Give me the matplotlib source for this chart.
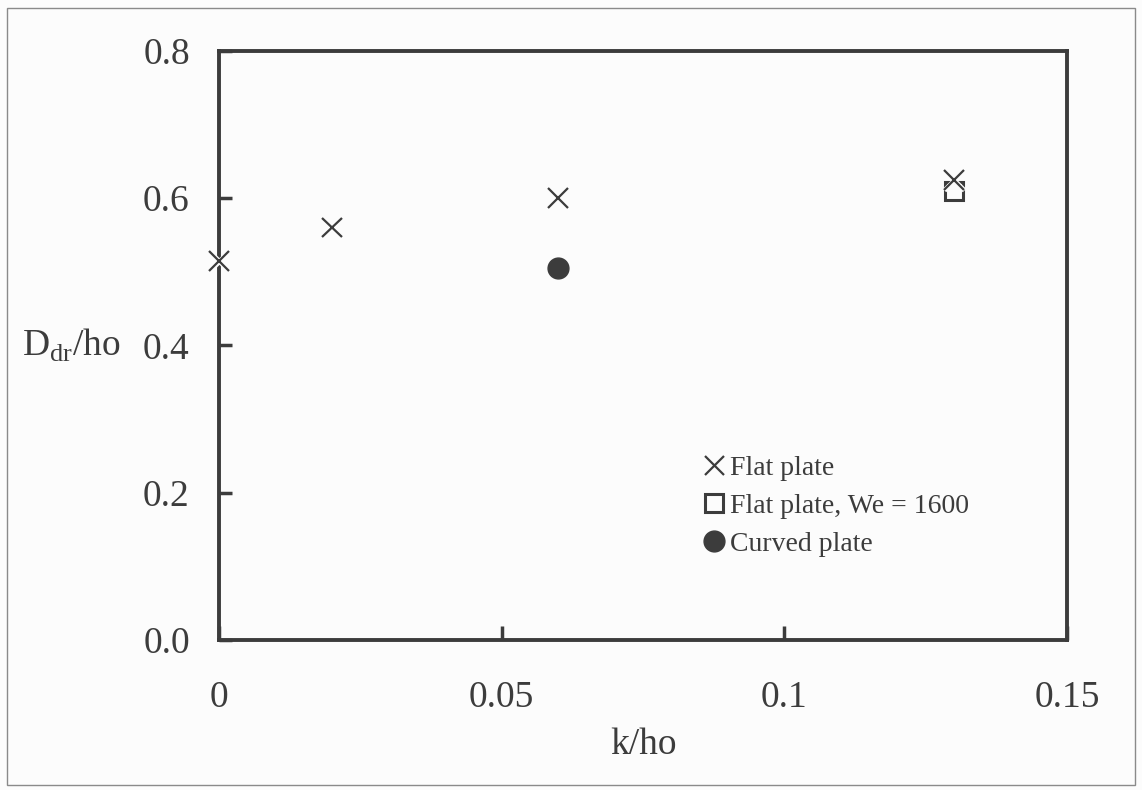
import matplotlib
matplotlib.use('Agg')
import matplotlib.pyplot as plt
import matplotlib.patheffects as pe
from matplotlib.patches import Rectangle

## Initialize
plt.rcParams['font.family'] = ['Liberation Serif', 'DejaVu Serif']
plt.rcParams['mathtext.fontset'] = 'custom'
plt.rcParams['mathtext.rm'] = 'Liberation Serif'
ink = '#3c3c3c'

## Data
flat_x = [0.0, 0.02, 0.06, 0.13]
flat_y = [0.515, 0.56, 0.60, 0.625]
we_x = [0.13]
we_y = [0.61]
curved_x = [0.06]
curved_y = [0.505]

xticks = [0, 0.05, 0.1, 0.15]
xticklabels = ['0', '0.05', '0.1', '0.15']
yticks = [0.0, 0.2, 0.4, 0.6, 0.8]
yticklabels = ['0.0', '0.2', '0.4', '0.6', '0.8']

fig = plt.figure(figsize=(11.42, 7.9), dpi=100, facecolor='#fcfcfc')
ax = fig.add_axes([0.1918, 0.1899, 0.7425, 0.7456])
ax.set_facecolor('#fcfcfc')

halo = [pe.Stroke(linewidth=3.5, foreground='#fcfcfc'), pe.Normal()]
ax.plot(we_x, we_y, ls='none', marker='s', ms=13, mfc='none', mec=ink, mew=2.2,
        label='Flat plate, We = 1600', clip_on=False, zorder=3)
ax.plot(flat_x, flat_y, ls='none', marker='x', ms=14, mec=ink, mew=1.6,
        label='Flat plate', clip_on=False, zorder=5, path_effects=halo)
ax.plot(curved_x, curved_y, ls='none', marker='o', ms=15, mfc=ink, mec=ink,
        label='Curved plate', clip_on=False, zorder=4)

## Axes
ax.set_xlim(0, 0.15)
ax.set_ylim(0, 0.8)
ax.set_xticks(xticks)
ax.set_xticklabels(xticklabels)
ax.set_yticks(yticks)
ax.set_yticklabels(yticklabels)
ax.tick_params(axis='x', direction='in', length=10, width=2.5, color=ink,
               labelsize=27, labelcolor=ink, pad=29)
ax.tick_params(axis='y', direction='in', length=9, width=2.5, color=ink,
               labelsize=27, labelcolor=ink, pad=21)
for s in ax.spines.values():
    s.set_linewidth(2.8)
    s.set_color(ink)

ax.set_xlabel('k/ho', fontsize=27, color=ink, labelpad=9)
ax.set_ylabel('D$_{\\rm dr}$/ho', fontsize=27, color=ink, rotation=0,
              ha='left', va='center')
ax.yaxis.set_label_coords(-0.232, 0.5)

h, l = ax.get_legend_handles_labels()
order = [1, 0, 2]
leg = ax.legend([h[i] for i in order], [l[i] for i in order],
                loc='center left', bbox_to_anchor=(0.571, 0.227),
                frameon=False, fontsize=20, handlelength=0.8, handletextpad=0.15,
                labelspacing=0.45, borderpad=0, borderaxespad=0)
for t in leg.get_texts():
    t.set_color(ink)

## Page frame
fig.add_artist(Rectangle((7 / 1142, 5 / 790), 1128 / 1142, 777 / 790,
                         transform=fig.transFigure, fill=False,
                         edgecolor='#8a8a8a', linewidth=1.0))

plt.savefig('out.png', dpi=100, facecolor=fig.get_facecolor())
